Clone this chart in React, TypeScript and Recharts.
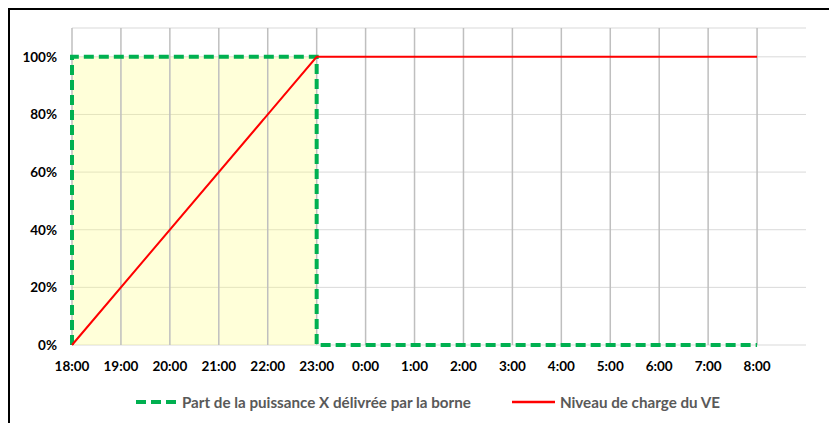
import React from "react";
import {
  ComposedChart,
  Line,
  Area,
  XAxis,
  YAxis,
  CartesianGrid,
  Legend,
  ReferenceLine,
} from "recharts";

const hourLabels = [
  "18:00", "19:00", "20:00", "21:00", "22:00", "23:00",
  "0:00", "1:00", "2:00", "3:00", "4:00", "5:00", "6:00", "7:00", "8:00",
];
const yTicks = [0, 0.2, 0.4, 0.6, 0.8, 1];

// Part de la puissance X délivrée par la borne (step profile)
const powerHour = [0, 0, 5, 5, 14];
const powerShare = [0, 1, 1, 0, 0];

// Niveau de charge du VE
const chargeHour = [0, 5, 14];
const chargeLevel = [0, 1, 1];

// shaded charging window
const shadeHour = [0, 5];
const shadeLevel = [1, 1];

const powerData = powerHour.map((h, i) => ({ h, v: powerShare[i] }));
const chargeData = chargeHour.map((h, i) => ({ h, v: chargeLevel[i] }));
const shadeData = shadeHour.map((h, i) => ({ h, v: shadeLevel[i] }));
const hourTicks = hourLabels.map((_, i) => i);

const FONT = "Lato, 'Open Sans', sans-serif";
const GREEN = "#00B050";
const RED = "#FF0000";

const LegendContent = () => (
  <div
    style={{
      display: "flex",
      justifyContent: "center",
      alignItems: "center",
      fontFamily: FONT,
      fontWeight: 700,
      fontSize: 15.2,
      color: "#595959",
      paddingTop: 18,
      paddingLeft: 40,
    }}
  >
    <svg width={40} height={8} style={{ marginRight: 6 }}>
      <line x1={0} y1={4} x2={40} y2={4} stroke={GREEN} strokeWidth={4} strokeDasharray="10 5" />
    </svg>
    <span>Part de la puissance X délivrée par la borne</span>
    <svg width={43} height={8} style={{ marginLeft: 41, marginRight: 5 }}>
      <line x1={0} y1={4} x2={43} y2={4} stroke={RED} strokeWidth={2.5} />
    </svg>
    <span>Niveau de charge du VE</span>
  </div>
);

export default function App() {
  return (
    <div
      style={{
        position: "fixed",
        left: 8,
        top: 8,
        width: 819,
        height: 413,
        borderLeft: "2px solid #000",
        borderTop: "2px solid #000",
        background: "#fff",
        overflow: "hidden",
      }}
    >
      <ComposedChart
        width={811}
        height={405}
        margin={{ top: 18, right: 15, left: 0, bottom: 0 }}
      >
        <CartesianGrid horizontal={true} vertical={false} stroke="#D9D9D9" strokeWidth={1} />
        {hourTicks.map((t) => (
          <ReferenceLine key={t} x={t} stroke="#BFBFBF" strokeWidth={1.5} />
        ))}
        <XAxis
          type="number"
          dataKey="h"
          domain={[0, 15]}
          ticks={hourTicks}
          tickFormatter={(v: number) => hourLabels[v] ?? ""}
          interval={0}
          allowDuplicatedCategory={false}
          axisLine={false}
          tickLine={false}
          tickMargin={10}
          height={30}
          tick={{ fill: "#000", fontFamily: FONT, fontWeight: 700, fontSize: 13.5 }}
        />
        <YAxis
          type="number"
          domain={[0, 1.1]}
          ticks={yTicks}
          tickFormatter={(v: number) => `${Math.round(v * 100)}%`}
          axisLine={false}
          tickLine={false}
          tickMargin={9}
          width={62}
          tick={{ fill: "#000", fontFamily: FONT, fontWeight: 700, fontSize: 13.5 }}
        />
        <Area
          data={shadeData}
          dataKey="v"
          type="linear"
          stroke="none"
          fill="#FFFF80"
          fillOpacity={0.3}
          isAnimationActive={false}
          legendType="none"
        />
        <Line
          data={powerData}
          dataKey="v"
          type="linear"
          stroke={GREEN}
          strokeWidth={4}
          strokeDasharray="10 5"
          dot={false}
          activeDot={false}
          isAnimationActive={false}
        />
        <Line
          data={chargeData}
          dataKey="v"
          type="linear"
          stroke={RED}
          strokeWidth={2}
          dot={false}
          activeDot={false}
          isAnimationActive={false}
        />
        <Legend verticalAlign="bottom" height={40} content={() => <LegendContent />} />
      </ComposedChart>
    </div>
  );
}
